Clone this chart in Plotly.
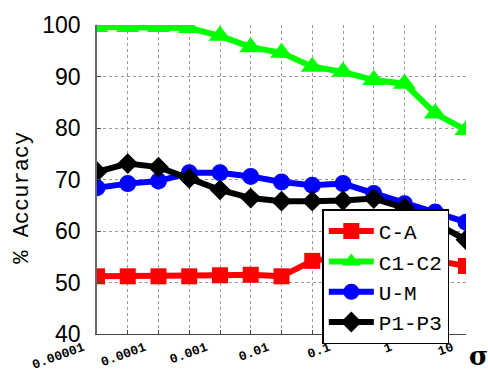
import plotly.graph_objects as go

# sigma values (half-decade steps)
sigma = [1e-5, 3.162e-5, 1e-4, 3.162e-4, 1e-3, 3.162e-3, 1e-2,
         3.162e-2, 1e-1, 3.162e-1, 1.0, 3.162, 10.0]
sigma_labels = ["0.00001", "", "0.0001", "", "0.001", "", "0.01",
                "", "0.1", "", "1", "", "10"]

acc_ca = [51.2, 51.2, 51.2, 51.2, 51.4, 51.5, 51.2, 54.2, 55.0, 55.2, 55.0, 54.3, 53.2]
acc_c1c2 = [99.6, 99.6, 99.6, 99.4, 97.9, 95.7, 94.6, 91.9, 90.9, 89.3, 88.6, 82.8, 79.6]
acc_um = [68.4, 69.2, 69.7, 71.3, 71.3, 70.6, 69.5, 68.9, 69.2, 67.3, 65.3, 63.7, 61.7]
acc_p1p3 = [71.5, 73.1, 72.4, 70.2, 68.0, 66.4, 65.8, 65.8, 65.9, 66.3, 64.5, 61.5, 58.3]

y_ticks = [40, 50, 60, 70, 80, 90, 100]

series = [
    ("C-A", acc_ca, "#ff0000", "square", 16),
    ("C1-C2", acc_c1c2, "#00ff00", "triangle-up", 20),
    ("U-M", acc_um, "#0000ff", "circle", 17),
    ("P1-P3", acc_p1p3, "#000000", "diamond", 16),
]

fig = go.Figure()
for name, vals, color, symbol, size in series:
    fig.add_trace(go.Scatter(
        x=sigma, y=vals, name=name, mode="lines+markers",
        line=dict(color=color, width=6),
        marker=dict(symbol=symbol, size=size, color=color, line=dict(width=0)),
    ))

fig.update_layout(
    width=488, height=374,
    margin=dict(l=97, r=22, t=25, b=40, autoexpand=False),
    paper_bgcolor="white", plot_bgcolor="white",
    showlegend=True,
    legend=dict(
        x=0.6106, y=0.403, xanchor="left", yanchor="top",
        bgcolor="white", bordercolor="black", borderwidth=1.5,
        font=dict(family="Liberation Mono", size=21, color="black"),
        itemwidth=45, tracegroupgap=0,
    ),
    xaxis=dict(
        type="log", range=[-5, 1], automargin=False,
        tickvals=sigma, ticktext=sigma_labels,
        tickangle=-20,
        tickfont=dict(family="Liberation Mono", size=13, color="black", weight="bold"),
        ticks="inside", ticklen=4, tickcolor="#444",
        ticklabelshift=-14, ticklabelstandoff=0,
        showline=True, linecolor="#444", linewidth=1,
        showgrid=True, gridcolor="#999", griddash="dot", gridwidth=1,
        zeroline=False,
    ),
    yaxis=dict(
        range=[40, 100], tickvals=y_ticks, automargin=False,
        tickfont=dict(family="Liberation Sans", size=23, color="black"),
        ticks="inside", ticklen=4, tickcolor="#444",
        showline=True, linecolor="#666", linewidth=1.5,
        showgrid=True, gridcolor="#999", griddash="dot", gridwidth=1,
        zeroline=False, ticklabelstandoff=10,
    ),
    annotations=[
        dict(text="% Accuracy", xref="paper", yref="paper",
             x=-0.2005, y=0.441, xanchor="center", yanchor="middle",
             textangle=-90, showarrow=False,
             font=dict(family="Liberation Mono", size=22, color="black")),
        dict(text="<b>σ</b>", xref="paper", yref="paper",
             x=1.062, y=-0.072, xanchor="right", yanchor="middle",
             height=28, valign="middle", borderpad=0,
             showarrow=False,
             font=dict(family="DejaVu Serif", size=26, color="black")),
    ],
)

fig.write_html("out.html")
